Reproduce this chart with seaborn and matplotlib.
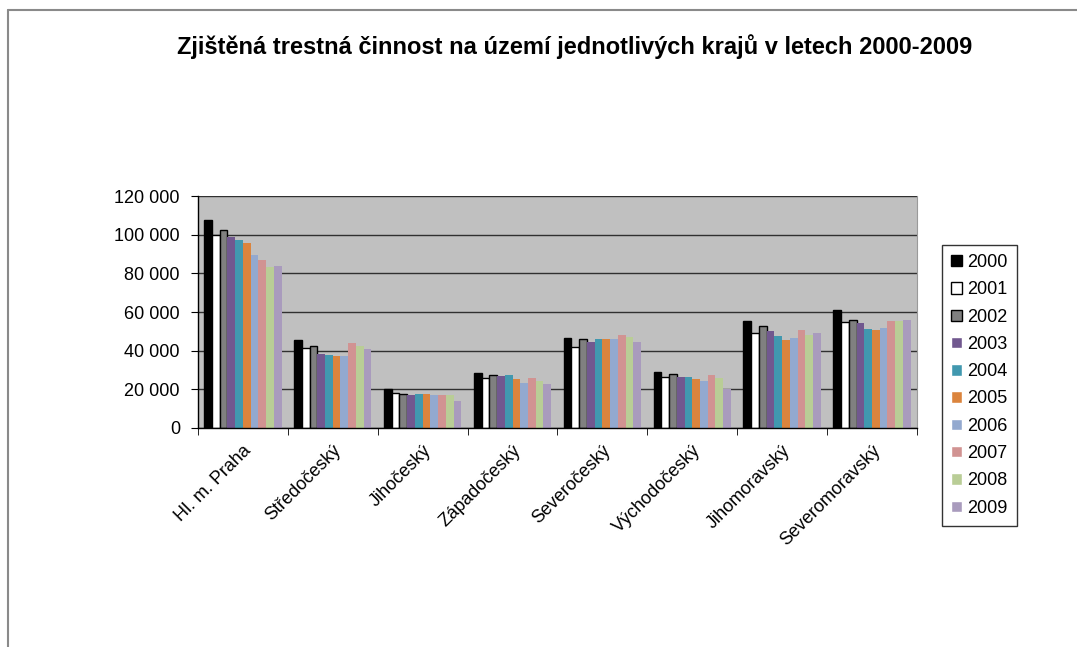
import matplotlib
matplotlib.use("Agg")
import matplotlib.pyplot as plt
import matplotlib.ticker as mticker
import matplotlib.transforms as mtrans
from matplotlib.lines import Line2D
import pandas as pd
import seaborn as sns

years = ["2000", "2001", "2002", "2003", "2004", "2005", "2006", "2007", "2008", "2009"]
regions = ["Hl. m. Praha", "Středočeský", "Jihočeský", "Západočeský", "Severočeský",
           "Východočeský", "Jihomoravský", "Severomoravský"]

praha = [107400, 99800, 102600, 99000, 97400, 95900, 89500, 87100, 83100, 84000]
stredocesky = [45300, 41400, 42200, 38400, 37800, 37200, 37200, 44000, 42400, 41000]
jihocesky = [20300, 18300, 17600, 17200, 17700, 17700, 17200, 16900, 16900, 14100]
zapadocesky = [28300, 25700, 27400, 26700, 27200, 25300, 23400, 26000, 24100, 22900]
severocesky = [46600, 41900, 46000, 44600, 46000, 46000, 46000, 48300, 46900, 44500]
vychodocesky = [28800, 26500, 28100, 26400, 26400, 25300, 24500, 27600, 26000, 20300]
jihomoravsky = [55400, 49300, 52900, 50300, 47700, 45700, 46700, 50900, 47900, 49300]
severomoravsky = [61000, 55000, 55700, 54100, 51200, 50900, 51500, 55500, 55500, 56000]

colors = ["#000000", "#FFFFFF", "#808080", "#71588F", "#4198AF", "#DB843D",
          "#93A9CF", "#D19392", "#B9CD96", "#A99BBD"]

rows = [praha, stredocesky, jihocesky, zapadocesky, severocesky,
        vychodocesky, jihomoravsky, severomoravsky]
df = pd.DataFrame(
    [(reg, yr, val) for reg, vals in zip(regions, rows) for yr, val in zip(years, vals)],
    columns=["kraj", "rok", "pocet"],
)

sns.set_style("white")
plt.rcParams["font.family"] = ["Liberation Sans", "DejaVu Sans"]
plt.rcParams["text.color"] = "black"
plt.rcParams["xtick.color"] = "black"
plt.rcParams["ytick.color"] = "black"

fig = plt.figure(figsize=(10.77, 6.47), dpi=100)
ax = fig.add_axes([0.1838, 0.3385, 0.8514 - 0.1838, 0.697 - 0.3385])
ax.set_facecolor("#C0C0C0")

sns.barplot(data=df, x="kraj", y="pocet", hue="rok", palette=colors,
            width=0.86, saturation=1, ax=ax, legend=True)

for i, cont in enumerate(ax.containers):
    for bar in cont:
        if i < 3:
            bar.set_edgecolor("black")
            bar.set_linewidth(1.0)
        else:
            bar.set_edgecolor("none")

ax.set_ylim(0, 120000)
ax.set_xlim(-0.5, len(regions) - 0.5)
ax.yaxis.set_major_locator(mticker.MultipleLocator(20000))
ax.yaxis.set_major_formatter(
    mticker.FuncFormatter(lambda v, p: f"{int(v):,}".replace(",", " ")))
ax.yaxis.grid(True, color="#303030", linewidth=1.0)
ax.set_axisbelow(True)

ax.set_xlabel("")
ax.set_ylabel("")
ax.set_xticks(range(len(regions)))
ax.set_xticklabels(regions, rotation=45, ha="right", va="top",
                   rotation_mode="anchor", fontsize=13)
shift = mtrans.ScaledTranslation(-6 / 100, 0, fig.dpi_scale_trans)
for lab in ax.get_xticklabels():
    lab.set_transform(lab.get_transform() + shift)
ax.tick_params(axis="x", which="major", length=0, pad=10)
ax.set_xticks([i - 0.5 for i in range(len(regions) + 1)], minor=True)
ax.tick_params(axis="x", which="minor", length=5, direction="out", color="black", bottom=True)
ax.tick_params(axis="y", length=5, direction="out", color="black", left=True,
               labelsize=13, pad=8)

for side in ["left", "bottom"]:
    ax.spines[side].set_color("black")
    ax.spines[side].set_linewidth(1.0)
ax.spines["top"].set_visible(False)
ax.spines["right"].set_color("#9a9a9a")

handles, labels = ax.get_legend_handles_labels()
ax.legend_.remove()
leg = fig.legend(handles, labels, loc="upper left",
                 bbox_to_anchor=(942 / 1077, 1 - 245 / 647),
                 fontsize=13, frameon=True, fancybox=False, edgecolor="black",
                 handlelength=0.6, handleheight=0.6, handletextpad=0.3,
                 labelspacing=0.57, borderpad=0.5, borderaxespad=0)
leg.get_frame().set_linewidth(1.0)
for i, h in enumerate(leg.legend_handles):
    if i < 3:
        h.set_edgecolor("black")
        h.set_linewidth(1.0)

fig.text(0.534, 1 - 47 / 647, "Zjištěná trestná činnost na území jednotlivých krajů v letech 2000-2009",
         ha="center", va="center", fontsize=17, fontweight="bold")

# outer chart frame (top and left edges)
fig.add_artist(Line2D([8 / 1077, 1], [1 - 10 / 647, 1 - 10 / 647], color="#8a8a8a", linewidth=1.5))
fig.add_artist(Line2D([8 / 1077, 8 / 1077], [0, 1 - 10 / 647], color="#8a8a8a", linewidth=1.5))

fig.savefig("out.png", dpi=100)
